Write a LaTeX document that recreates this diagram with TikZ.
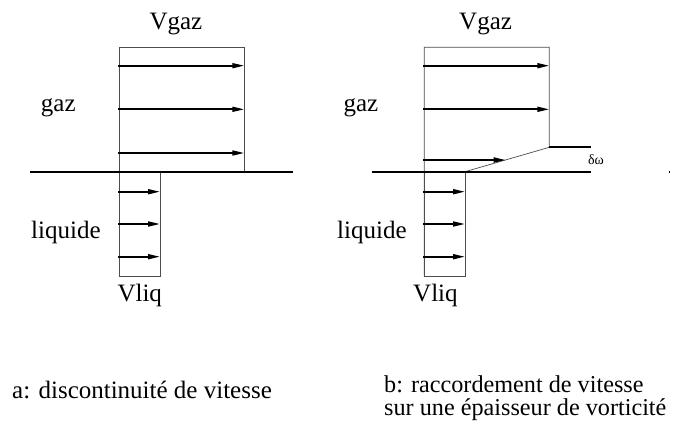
\documentclass[tikz,border=0pt]{standalone}
\usepackage{fontspec}
\setmainfont{Liberation Serif}
\usetikzlibrary{arrows.meta}
\tikzset{%
profil/.style={line width=0.7pt,black!70},
interface/.style={line width=2pt},
vitesse/.style={line width=1.8pt,-{Triangle[length=12pt,width=5pt]}},
lbl/.style={font=\fontsize{25}{28}\selectfont,inner sep=0pt,anchor=base west},
legende/.style={font=\fontsize{24.2}{23}\selectfont,inner sep=0pt,align=left,anchor=base west}
}

\begin{document}
\begin{tikzpicture}[x=1pt,y=-1pt]
\useasboundingbox (0,0) rectangle (673,428);
% a: discontinuite
\draw[profil] (119.3,171.7) rectangle (244.3,47.3);
\draw[profil] (119.3,171.7) rectangle (160,276);
\draw[interface] (30,171.7) -- (293.3,171.7);
\foreach \y in {65.7,109.3,153}
  \draw[vitesse] (118,\y) -- (244.3,\y);
\foreach \y in {191.7,224,256.7}
  \draw[vitesse] (118,\y) -- (160,\y);
\node[lbl] (vgaza) at (149.3,29.3) {Vgaz};
\node[lbl] (gaza) at (40.7,111.7) {gaz};
\node[lbl] (liqa) at (31,238) {liquide};
\node[lbl] (vliqa) at (117.3,301.7) {Vliq};
\node[legende,font=\fontsize{25}{23}\selectfont] (lega) at (12,398) {a: discontinuité de vitesse};
% b: raccordement
\draw[profil] (424.3,276) -- (424.3,47.3) -- (549.3,47.3) -- (549.3,147.3) -- (465,171.7);
\draw[profil] (424.3,171.7) rectangle (465,276);
\draw[interface] (549.3,147.3) -- (590.7,147.3);
\draw[interface] (371.7,171.7) -- (590.7,171.7);
\foreach \y in {65.7,109.3}
  \draw[vitesse] (423,\y) -- (549.3,\y);
\draw[vitesse] (423,160) -- (505.7,160);
\foreach \y in {191.7,224,256.7}
  \draw[vitesse] (423,\y) -- (465,\y);
\fill (668.8,171) rectangle (670.3,172.5);
\node[lbl] (vgazb) at (459,29.3) {Vgaz};
\node[lbl] (gazb) at (343.3,111.7) {gaz};
\node[lbl] (liqb) at (337,238) {liquide};
\node[lbl] (vliqb) at (413,301.7) {Vliq};
\node[font=\fontsize{14}{16}\selectfont,inner sep=0pt] (delta) at (596,160) {δω};
\node[legende] (legb) at (384,415) {b: raccordement de vitesse\\sur une épaisseur de vorticité};
\end{tikzpicture}
\end{document}
